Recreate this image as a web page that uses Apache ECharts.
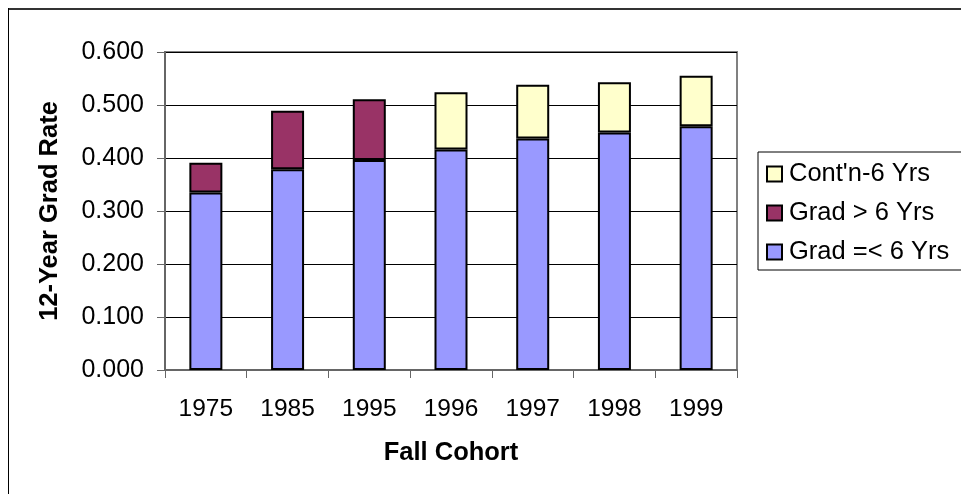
<!DOCTYPE html>
<html>
<head>
<meta charset="utf-8">
<script src="https://cdn.jsdelivr.net/npm/echarts@6/dist/echarts.min.js"></script>
<style>
  html, body { margin: 0; padding: 0; background: #fff; }
  #grad-chart { width: 961px; height: 494px; }
</style>
</head>
<body>
<div id="grad-chart"></div>
<script>
// fall cohorts on the x axis
const cohorts = ['1975', '1985', '1995', '1996', '1997', '1998', '1999']
// 12-year rates, stacked bottom to top
const gradWithin6 = [0.335, 0.379, 0.396, 0.416, 0.437, 0.448, 0.460]
const gradAfter6 = [0.056, 0.110, 0.115, null, null, null, null]
const contAfter6 = [null, null, null, 0.108, 0.101, 0.095, 0.095]

const FONT = 'Arial, "Liberation Sans", sans-serif'

const chart = echarts.init(document.getElementById('grad-chart'), null, { renderer: 'canvas' })

function barSeries(name, data, color) {
  return {
    name: name,
    type: 'bar',
    stack: 'total',
    barWidth: 33,
    data: data,
    itemStyle: { color: color, borderColor: '#000', borderWidth: 2 },
    emphasis: { disabled: true }
  }
}

chart.setOption({
  animation: false,
  textStyle: { fontFamily: FONT },
  graphic: [
    // outer chart frame (top and left edges visible)
    { type: 'line', shape: { x1: 8, y1: 9, x2: 961, y2: 9 }, style: { stroke: '#333', lineWidth: 2 } },
    { type: 'line', shape: { x1: 8.5, y1: 8, x2: 8.5, y2: 494 }, style: { stroke: '#000', lineWidth: 1 } }
  ],
  grid: {
    left: 165, right: 224, top: 52, bottom: 124,
    show: true, borderColor: '#808080', borderWidth: 2, backgroundColor: '#fff'
  },
  legend: {
    orient: 'vertical',
    left: 758, top: 152,
    padding: [9, 14, 5, 8],
    borderColor: '#000', borderWidth: 1,
    itemWidth: 15, itemHeight: 15, itemGap: 13,
    icon: 'rect',
    data: ["Cont'n-6 Yrs", 'Grad > 6 Yrs', 'Grad =< 6 Yrs'],
    textStyle: { fontSize: 25.5, color: '#000', fontFamily: FONT, lineHeight: 26, padding: [0, 0, 0, 2] }
  },
  xAxis: {
    type: 'category',
    data: cohorts,
    name: 'Fall Cohort',
    nameLocation: 'middle',
    nameGap: 70,
    nameTextStyle: { fontSize: 25.5, fontWeight: 'bold', color: '#000', fontFamily: FONT },
    axisLine: { lineStyle: { color: '#666', width: 2 } },
    axisTick: { show: true, length: 8, lineStyle: { color: '#666', width: 1 } },
    axisLabel: { fontSize: 24.5, color: '#000', margin: 27, fontFamily: FONT },
    splitLine: { show: false }
  },
  yAxis: {
    type: 'value',
    min: 0, max: 0.6, interval: 0.1,
    name: '12-Year Grad Rate',
    nameLocation: 'middle',
    nameGap: 102,
    nameTextStyle: { fontSize: 25.5, fontWeight: 'bold', color: '#000', fontFamily: FONT },
    axisLine: { show: true, lineStyle: { color: '#666', width: 2 } },
    axisTick: { show: true, length: 8, lineStyle: { color: '#666', width: 1 } },
    axisLabel: {
      fontSize: 25, color: '#000', margin: 21, fontFamily: FONT,
      formatter: v => v.toFixed(3)
    },
    splitLine: { show: true, lineStyle: { color: '#000', width: 1 } }
  },
  series: [
    barSeries('Grad =< 6 Yrs', gradWithin6, '#9999FF'),
    barSeries('Grad > 6 Yrs', gradAfter6, '#993366'),
    barSeries("Cont'n-6 Yrs", contAfter6, '#FFFFCC')
  ]
})
</script>
</body>
</html>
